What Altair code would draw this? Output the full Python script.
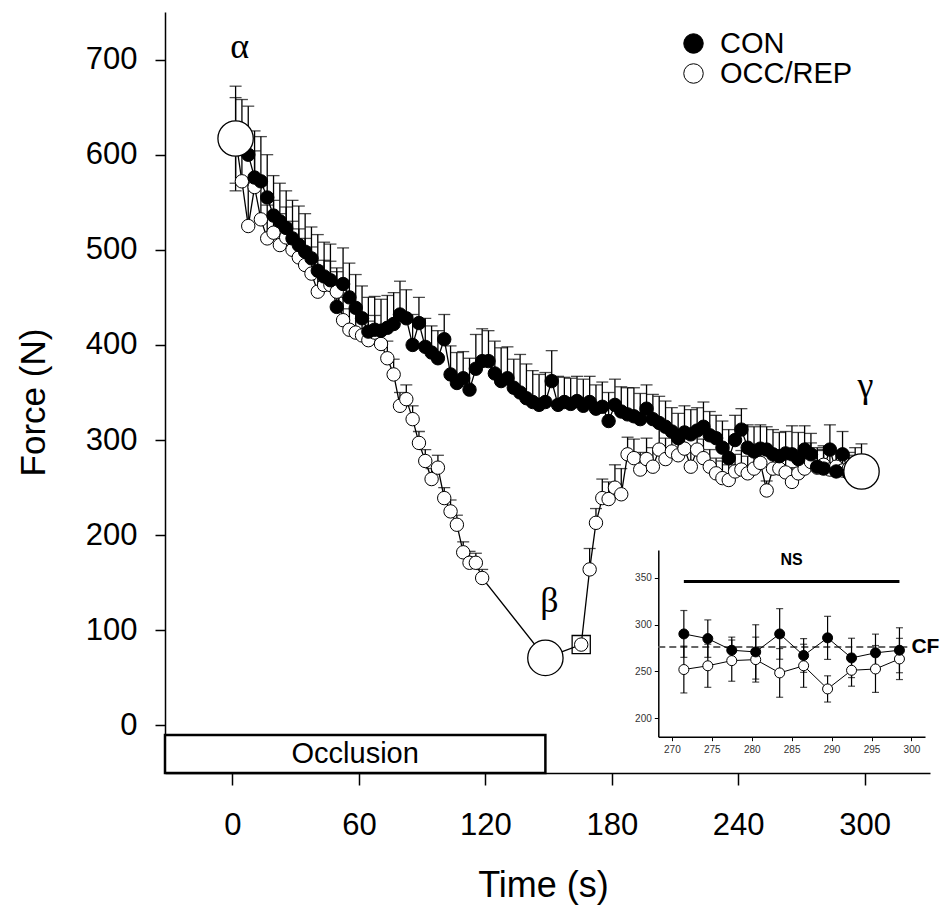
import altair as alt
import pandas as pd

# ---------------- data ----------------
con_time = [round(1.5 + 3 * i, 1) for i in range(100)]
con_force = [615, 608, 600, 576, 572, 555, 536, 530, 523, 512,
             505, 498, 491, 478, 472, 468, 440, 464, 450, 439,
             428, 414, 416, 415, 418, 422, 432, 428, 400, 423,
             398, 392, 386, 406, 369, 360, 365, 353, 375, 383,
             383, 370, 362, 365, 355, 350, 344, 340, 337, 340,
             362, 337, 340, 338, 341, 336, 340, 333, 335, 320,
             337, 330, 327, 325, 322, 333, 322, 318, 314, 309,
             302, 308, 306, 310, 314, 305, 302, 292, 281, 300,
             311, 292, 288, 291, 290, 285, 283, 286, 285, 280,
             290, 285, 272, 270, 290, 267, 285, 265, 270, 272]
con_se = [45, 50, 51, 49, 47, 45, 42, 40, 39, 40,
          41, 40, 33, 38, 36, 38, 37, 38, 36, 35,
          34, 36, 35, 33, 34, 33, 35, 30, 32, 27,
          30, 28, 29, 26, 30, 32, 28, 33, 36, 34,
          32, 34, 35, 33, 30, 40, 36, 33, 32, 31,
          32, 30, 26, 27, 26, 28, 27, 25, 26, 30,
          27, 26, 28, 30, 27, 25, 26, 28, 27, 25,
          26, 28, 26, 24, 26, 25, 24, 28, 30, 26,
          22, 24, 26, 25, 24, 26, 25, 23, 30, 28,
          25, 22, 20, 24, 26, 22, 24, 22, 22, 24]

# OCC/REP: occlusion phase (ends at beta), release point, reperfusion phase (ends at gamma)
occ_time_occl = [round(1.5 + 3 * i, 1) for i in range(40)] + [148.5]
occ_force_occl = [617, 572, 525, 566, 532, 512, 518, 505, 513, 500,
                  492, 484, 475, 456, 463, 463, 456, 426, 416, 413,
                  410, 405, 413, 401, 386, 369, 336, 343, 322, 297,
                  278, 259, 271, 239, 225, 211, 182, 171, 171, 155,
                  71]
occ_se_occl = [55, 40, 45, 38, 36, 35, 34, 33, 32, 30,
               30, 28, 28, 27, 26, 25, 25, 24, 22, 22,
               20, 20, 18, 20, 18, 16, 14, 15, 14, 12,
               12, 11, 13, 11, 12, 10, 11, 12, 10, 9,
               0]
release_time = [165.5]
release_force = [85]
release_se = [0]
occ_time_rep = [round(169.5 + 3 * i, 1) for i in range(43)] + [298.5]
occ_force_rep = [164, 213, 239, 238, 250, 243, 285, 281, 269, 280,
                 272, 290, 280, 288, 284, 291, 272, 290, 281, 272,
                 265, 260, 258, 267, 269, 265, 270, 276, 247, 270,
                 270, 266, 256, 265, 270, 277, 271, 274, 269, 272,
                 268, 270, 268, 267]
occ_se_rep = [22, 15, 20, 18, 24, 27, 18, 20, 18, 22,
              20, 25, 22, 20, 22, 20, 18, 22, 20, 18,
              16, 18, 16, 18, 20, 18, 16, 20, 10, 18,
              16, 18, 15, 16, 18, 20, 18, 16, 18, 16,
              15, 14, 14, 0]

landmark_time = [1.5, 148.5, 298.5]
landmark_force = [617, 71, 267]
landmark_label = ["α", "β", "γ"]

occlusion_start, occlusion_end = -32, 148.5
occlusion_low, occlusion_high = -50, -10

# inset (last 30 s)
inset_time = [271.5, 274.5, 277.5, 280.5, 283.5, 286.5, 289.5, 292.5, 295.5, 298.5]
inset_con = [290, 285, 272.6, 270.8, 290, 267, 285.8, 264.4, 269.8, 272.6]
inset_con_se = [25, 20, 14, 29, 27, 18, 23, 21, 20, 24]
inset_occ = [252, 256, 261.5, 262.6, 248.4, 256, 231.3, 251.2, 252.6, 263.3]
inset_occ_se = [25, 23, 22, 24, 26, 23, 14, 17, 25, 22]
cf_level = 276
ns_level = 346
ns_span = [271.5, 298.5]

# ---------------- tables ----------------
occ_df = pd.DataFrame({
    "t": occ_time_occl + release_time + occ_time_rep,
    "v": occ_force_occl + release_force + occ_force_rep,
    "se": occ_se_occl + release_se + occ_se_rep,
})
occ_df["series"] = "OCC/REP"
con_df = pd.DataFrame({"t": con_time, "v": con_force, "se": con_se})
con_df["series"] = "CON"
main_df = pd.concat([occ_df, con_df], ignore_index=True)
main_df["hi"] = main_df["v"] + main_df["se"]
main_df["lo"] = main_df["v"]
first = main_df["t"] == 1.5
main_df.loc[first, "lo"] = main_df.loc[first, "v"] - main_df.loc[first, "se"]

release_df = pd.DataFrame({"t": release_time, "v": release_force})
land_df = pd.DataFrame({"t": landmark_time, "v": landmark_force, "lbl": landmark_label})
box_df = pd.DataFrame({"x0": [occlusion_start], "x1": [occlusion_end],
                       "y0": [occlusion_low], "y1": [occlusion_high],
                       "xm": [(occlusion_start + occlusion_end) / 2],
                       "ym": [(occlusion_low + occlusion_high) / 2]})

ins_df = pd.concat([
    pd.DataFrame({"t": inset_time, "v": inset_occ, "se": inset_occ_se, "series": "OCC/REP"}),
    pd.DataFrame({"t": inset_time, "v": inset_con, "se": inset_con_se, "series": "CON"}),
], ignore_index=True)
ins_df["hi"] = ins_df["v"] + ins_df["se"]
ins_df["lo"] = ins_df["v"] - ins_df["se"]

FONT = "Liberation Sans"

# ---------------- main scales / axes ----------------
xs = alt.Scale(domain=[-32, 331], nice=False, zero=False)
ys = alt.Scale(domain=[-50, 750], nice=False, zero=False)
xaxis = alt.Axis(values=[0, 60, 120, 180, 240, 300], title="Time (s)", grid=False,
                 labelFont=FONT, labelFontSize=31, labelColor="black", labelPadding=25,
                 tickSize=12, tickColor="black", tickWidth=1.5,
                 domainColor="black", domainWidth=1.5,
                 titleFont=FONT, titleFontSize=36, titleFontWeight="normal", titleColor="black",
                 titleX=378, titleY=112, titleBaseline="middle")
yaxis = alt.Axis(values=[0, 100, 200, 300, 400, 500, 600, 700], title="Force (N)", grid=False,
                 labelFont=FONT, labelFontSize=31, labelColor="black", labelPadding=18,
                 tickSize=10, tickColor="black", tickWidth=1.5,
                 domainColor="black", domainWidth=1.5,
                 titleFont=FONT, titleFontSize=35, titleFontWeight="normal", titleColor="black",
                 titleX=-132, titleY=390, titleBaseline="middle")


def X(f):
    return alt.X(f, type="quantitative", scale=xs, axis=xaxis)


def Y(f):
    return alt.Y(f, type="quantitative", scale=ys, axis=yaxis)


box = alt.Chart(box_df).mark_rect(fill="white", stroke="black", strokeWidth=2.5).encode(
    x=X("x0"), x2="x1", y=Y("y0"), y2="y1")
box_text = alt.Chart(box_df).mark_text(text="Occlusion", font=FONT, fontSize=29, color="black").encode(
    x=X("xm"), y=Y("ym"))

err = alt.Chart(main_df).transform_filter("datum.se > 0")
err_rule = err.mark_rule(color="black", strokeWidth=1.3).encode(x=X("t"), y=Y("lo"), y2="hi")
err_cap = err.mark_tick(orient="horizontal", size=12, thickness=1.3, color="black").encode(x=X("t"), y=Y("hi"))
err_cap_lo = err.transform_filter("datum.lo < datum.v").mark_tick(
    orient="horizontal", size=12, thickness=1.3, color="black").encode(x=X("t"), y=Y("lo"))

lines = alt.Chart(main_df).mark_line(color="black", strokeWidth=1.3).encode(
    x=X("t"), y=Y("v"), detail="series:N", order="t:Q")

points = alt.Chart(main_df).mark_point(shape="circle", filled=True, stroke="black",
                                       strokeWidth=1, size=180, opacity=1).encode(
    x=X("t"), y=Y("v"),
    fill=alt.Fill("series:N", scale=alt.Scale(domain=["CON", "OCC/REP"], range=["black", "white"]),
                  legend=alt.Legend(title=None, orient="none", legendX=514, legendY=17,
                                    symbolType="circle", symbolSize=380, symbolStrokeColor="black",
                                    symbolStrokeWidth=1, labelFont=FONT, labelFontSize=29,
                                    labelColor="black", labelOffset=12, rowPadding=0)))

square = alt.Chart(release_df).mark_point(shape="square", size=330, stroke="black",
                                          strokeWidth=1.3, filled=False, opacity=1).encode(
    x=X("t"), y=Y("v"))
big = alt.Chart(land_df).mark_point(shape="circle", size=1250, filled=True, fill="white",
                                    stroke="black", strokeWidth=1.3, opacity=1).encode(
    x=X("t"), y=Y("v"))

greek_offsets = {"α": -92, "β": -57, "γ": -85}
greek = [alt.Chart(land_df).transform_filter(alt.datum.lbl == g).mark_text(
    font="Liberation Serif", fontSize=36, color="black", dy=d, dx=4).encode(
    x=X("t"), y=Y("v"), text="lbl:N") for g, d in greek_offsets.items()]

main = alt.layer(box, box_text, err_rule, err_cap, err_cap_lo, lines, points, square, big, *greek)

# ---------------- inset ----------------
ixs = alt.Scale(domain=[268.3, 301.7], range=[493.3, 760], nice=False, zero=False)
iys = alt.Scale(domain=[180.3, 379.6], range=[724.7, 538], nice=False, zero=False)
ixaxis = alt.Axis(values=[270, 275, 280, 285, 290, 295, 300], orient="bottom", offset=-36.3,
                  title=None, grid=False, labelFont=FONT, labelFontSize=10, labelColor="#333",
                  labelPadding=4, tickSize=4, tickColor="black", domainColor="black", domainWidth=1.5)
iyaxis = alt.Axis(values=[200, 250, 300, 350], orient="left", offset=-493.3,
                  title=None, grid=False, labelFont=FONT, labelFontSize=10, labelColor="#333",
                  labelPadding=3, tickSize=4, tickColor="black", domainColor="black", domainWidth=1.5)


def IX(f):
    return alt.X(f, type="quantitative", scale=ixs, axis=ixaxis)


def IY(f):
    return alt.Y(f, type="quantitative", scale=iys, axis=iyaxis)


ins = alt.Chart(ins_df)
i_rule = ins.mark_rule(color="black", strokeWidth=1.2).encode(x=IX("t"), y=IY("lo"), y2="hi")
i_cap_hi = ins.mark_tick(orient="horizontal", size=7, thickness=1.2, color="black").encode(x=IX("t"), y=IY("hi"))
i_cap_lo = ins.mark_tick(orient="horizontal", size=7, thickness=1.2, color="black").encode(x=IX("t"), y=IY("lo"))
i_line = ins.mark_line(color="black", strokeWidth=1).encode(x=IX("t"), y=IY("v"), detail="series:N", order="t:Q")
i_pts = ins.mark_point(shape="circle", filled=True, stroke="black", strokeWidth=1, size=100, opacity=1).encode(
    x=IX("t"), y=IY("v"),
    fill=alt.Fill("series:N", scale=alt.Scale(domain=["CON", "OCC/REP"], range=["black", "white"]), legend=None))

cf_df = pd.DataFrame({"x0": [268.3], "x1": [299.5], "y": [cf_level], "xt": [300.0]})
cf_line = alt.Chart(cf_df).mark_rule(color="#666", strokeWidth=2, strokeDash=[7, 4]).encode(
    x=IX("x0"), x2="x1", y=IY("y"))
cf_text = alt.Chart(cf_df).mark_text(text="CF", font=FONT, fontSize=21, fontWeight="bold",
                                     align="left", color="black").encode(x=IX("xt"), y=IY("y"))
ns_df = pd.DataFrame({"x0": [ns_span[0]], "x1": [ns_span[1]], "y": [ns_level],
                      "xm": [(ns_span[0] + ns_span[1]) / 2], "ym": [ns_level + 23]})
ns_line = alt.Chart(ns_df).mark_rule(color="black", strokeWidth=3).encode(x=IX("x0"), x2="x1", y=IY("y"))
ns_text = alt.Chart(ns_df).mark_text(text="NS", font=FONT, fontSize=16, fontWeight="bold",
                                     color="black").encode(x=IX("xm"), y=IY("ym"))

inset = alt.layer(cf_line, i_rule, i_cap_hi, i_cap_lo, i_line, i_pts, ns_line, ns_text, cf_text)

chart = alt.layer(main, inset).resolve_scale(x="independent", y="independent", fill="independent").properties(
    width=765, height=761,
    padding={"left": 165, "top": 12, "right": 21, "bottom": 132},
    autosize=alt.AutoSizeParams(type="none"),
    background="white",
).configure_view(stroke=None)

chart.save("out.html", embed_options={"renderer": "svg", "actions": False})
